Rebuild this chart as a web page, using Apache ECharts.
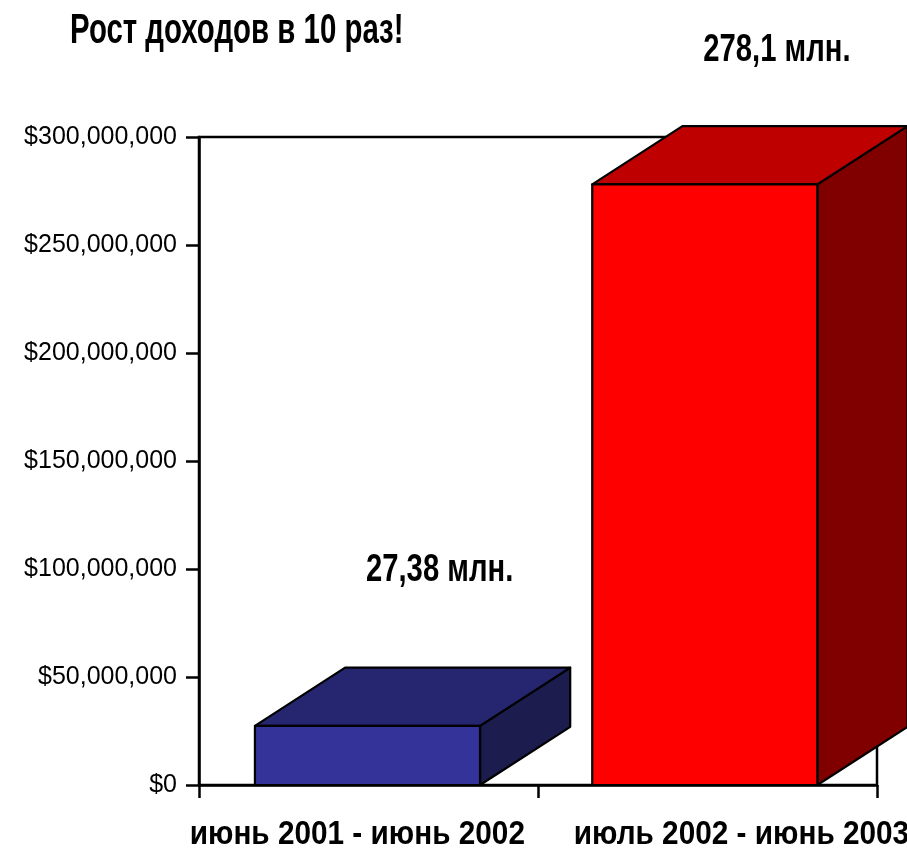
<!DOCTYPE html>
<html>
<head>
<meta charset="utf-8">
<script src="https://cdn.jsdelivr.net/npm/echarts@6/dist/echarts.min.js"></script>
<style>
html,body{margin:0;padding:0;background:#fff;}
#chart{width:907px;height:856px;}
</style>
</head>
<body>
<div id="chart"></div>
<script>
var titleText = 'Рост доходов в 10 раз!';
var categories = ['июнь 2001 - июнь 2002', 'июль 2002 - июнь 2003'];
var values = [27380000, 278100000];
var valueLabels = ['27,38 млн.', '278,1 млн.'];
var frontColors = ['#333399', '#ff0000'];
var topColors = ['#262670', '#bf0000'];
var sideColors = ['#1c1c4e', '#800000'];
var yMin = 0, yMax = 300000000, yStep = 50000000;

var sansBold = '"Liberation Sans", Arial, sans-serif';

var chart = echarts.init(document.getElementById('chart'));

function renderBar(params, api) {
  var idx = api.value(0);
  var val = api.value(1);
  var top = api.coord([idx, val]);
  var base = api.coord([idx, 0]);
  var band = api.size([1, 0])[0];
  var w = band * 0.664;
  var dx = band * 0.266;
  var dy = dx * 0.645;
  var cx = top[0] - [0.003, 0.008][idx] * band;
  var x0 = cx - w / 2, x1 = cx + w / 2;
  var yT = top[1], yB = base[1];
  var ls = {stroke: '#000', lineWidth: 2.2, lineJoin: 'round'};
  // label placement (style only)
  var valLabelRise = [97, 76][idx];
  var catLabelShift = [-0.033, 0.10][idx] * band;
  return {
    type: 'group',
    children: [
      {type: 'polygon', shape: {points: [[x1, yB], [x1 + dx, yB - dy], [x1 + dx, yT - dy], [x1, yT]]},
        style: Object.assign({fill: sideColors[idx]}, ls)},
      {type: 'polygon', shape: {points: [[x0, yT], [x0 + dx, yT - dy], [x1 + dx, yT - dy], [x1, yT]]},
        style: Object.assign({fill: topColors[idx]}, ls)},
      {type: 'rect', shape: {x: x0, y: yT, width: w, height: yB - yT},
        style: Object.assign({fill: frontColors[idx]}, ls)},
      {type: 'text', x: cx + dx * 0.8, y: yT - dy - valLabelRise, scaleX: 0.77,
        style: {text: valueLabels[idx], fill: '#000', font: 'bold 38px ' + sansBold,
          align: 'center', verticalAlign: 'middle'}},
      {type: 'text', x: top[0] + catLabelShift, y: yB + 50, scaleX: 0.875,
        style: {text: categories[idx], fill: '#000', font: 'bold 34px ' + sansBold,
          align: 'center', verticalAlign: 'middle'}}
    ]
  };
}

chart.setOption({
  animation: false,
  backgroundColor: '#fff',
  graphic: [{
    type: 'text', x: 70, y: 31, scaleX: 0.70,
    style: {text: titleText, fill: '#000', font: 'bold 42px ' + sansBold,
      align: 'left', verticalAlign: 'middle'}
  }],
  grid: {left: 199, right: 30, top: 137, bottom: 71, show: true, borderColor: '#000', borderWidth: 2.5, backgroundColor: 'transparent'},
  xAxis: {
    type: 'category',
    data: categories,
    axisLine: {lineStyle: {color: '#000', width: 2.5}},
    axisTick: {show: true, length: 13, lineStyle: {color: '#000', width: 2.5}},
    axisLabel: {show: false}
  },
  yAxis: {
    type: 'value',
    min: yMin, max: yMax, interval: yStep,
    axisLine: {show: true, lineStyle: {color: '#000', width: 2.5}},
    axisTick: {show: true, length: 13, lineStyle: {color: '#000', width: 2.5}},
    splitLine: {show: false},
    axisLabel: {color: '#000', fontFamily: '"Liberation Sans", Arial, sans-serif', fontSize: 25, margin: 22,
      formatter: function (v) { return '$' + v.toLocaleString('en-US'); }}
  },
  series: [{
    type: 'custom',
    renderItem: renderBar,
    clip: false,
    data: values.map(function (v, i) { return [i, v]; }),
    encode: {x: 0, y: 1}
  }]
});
</script>
</body>
</html>
